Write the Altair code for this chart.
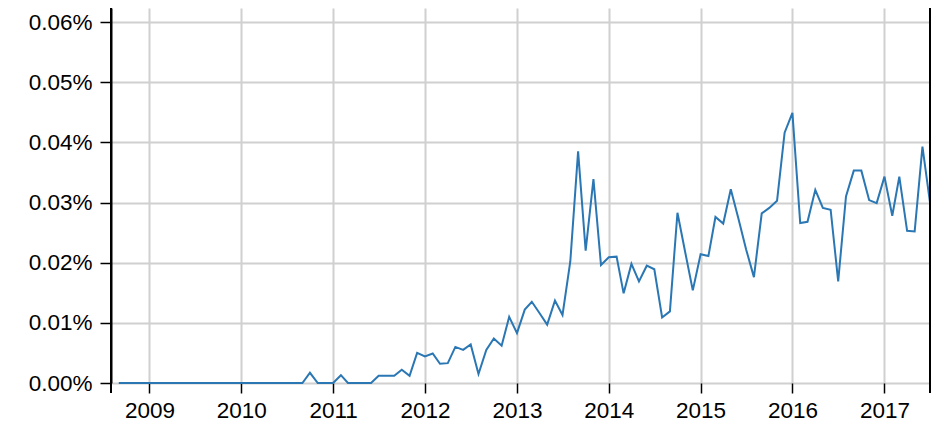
import altair as alt
import pandas as pd

# monthly share, in basis points (1 = 0.01%), Sep 2008 .. Jul 2017
months = pd.date_range("2008-09-01", "2017-07-01", freq="MS")
share_bp = [
    0, 0, 0, 0,                                                      # 2008 Sep-Dec
    0, 0, 0, 0, 0, 0, 0, 0, 0, 0, 0, 0,                              # 2009
    0, 0, 0, 0, 0, 0, 0, 0, 0, 0.17, 0, 0,                           # 2010
    0, 0.13, 0, 0, 0, 0, 0.12, 0.12, 0.12, 0.22, 0.12, 0.50,         # 2011
    0.44, 0.49, 0.32, 0.33, 0.60, 0.55, 0.64, 0.15, 0.55, 0.74, 0.62, 1.10,  # 2012
    0.83, 1.22, 1.35, 1.16, 0.97, 1.37, 1.13, 2.02, 3.85, 2.20, 3.39, 1.96,  # 2013
    2.09, 2.10, 1.49, 1.98, 1.69, 1.95, 1.89, 1.09, 1.19, 2.83, 2.17, 1.54,  # 2014
    2.14, 2.11, 2.76, 2.65, 3.22, 2.72, 2.22, 1.76, 2.82, 2.91, 3.03, 4.16,  # 2015
    4.49, 2.66, 2.68, 3.21, 2.91, 2.88, 1.69, 3.10, 3.53, 3.53, 3.04, 2.99,  # 2016
    3.43, 2.78, 3.43, 2.53, 2.52, 3.93, 3.00,                        # 2017 Jan-Jul
]
y_ticks = [0, 0.0001, 0.0002, 0.0003, 0.0004, 0.0005, 0.0006]
x_years = list(range(2009, 2018))

df = pd.DataFrame({"month": months, "share": [v / 10000 for v in share_bp]})

W, H = 819, 375
FONT = "Liberation Sans"
start = alt.DateTime(year=2008, month=8, date=1)
end = alt.DateTime(year=2017, month=7, date=1)

line = alt.Chart(df).mark_line(color="#2a77b4", strokeWidth=2).encode(
    x=alt.X("month:T",
            title=None,
            scale=alt.Scale(domain=[start, end]),
            axis=alt.Axis(values=[alt.DateTime(year=y, month=1, date=1) for y in x_years],
                          format="%Y", domain=False, tickSize=10, tickWidth=1.5,
                          tickColor="black", labelPadding=6)),
    y=alt.Y("share:Q",
            title=None,
            scale=alt.Scale(domain=[0, 0.0006233], nice=False),
            axis=alt.Axis(values=y_ticks, format=".2%", domain=True, domainColor="black",
                          domainWidth=2, tickSize=11, tickWidth=1.5, tickColor="black",
                          labelPadding=8)),
)

# end stubs of the time axis, running full height
edges = alt.Chart(pd.DataFrame({"d": [0]})).mark_rule(color="black", strokeWidth=2)
left_edge = edges.encode(x=alt.datum(start, type="temporal"), y=alt.value(0), y2=alt.value(H + 10))
right_edge = edges.encode(x=alt.datum(end, type="temporal"), y=alt.value(0), y2=alt.value(H + 10))

chart = alt.layer(line, left_edge, right_edge).properties(
    width=W,
    height=H,
    autosize=alt.AutoSizeParams(type="none"),
    padding={"left": 103, "top": 0, "right": 4, "bottom": 41},
).configure_view(
    stroke=None
).configure_axis(
    labelFont=FONT,
    labelFontSize=22.5,
    labelColor="black",
    grid=True,
    gridColor="#d0d0d0",
    gridWidth=2,
)

chart.save("out.html", embed_options={"renderer": "svg", "actions": False})
